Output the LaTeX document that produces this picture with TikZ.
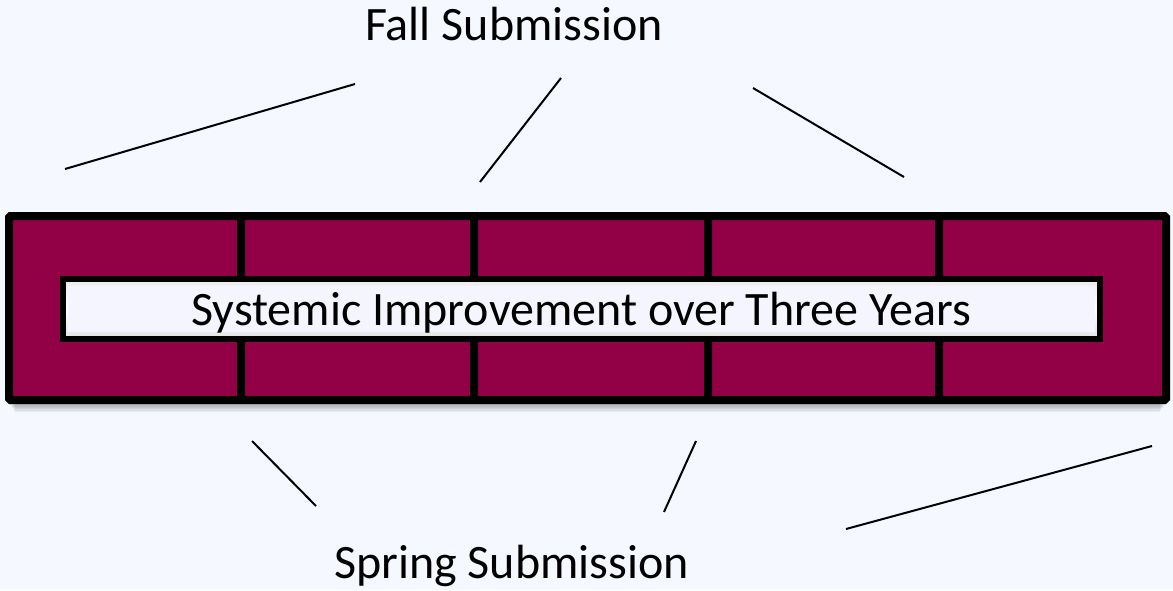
\documentclass[tikz,border=0pt]{standalone}
\usepackage{fontspec}
\setmainfont{Carlito}
\usetikzlibrary{shadows.blur}
\definecolor{bg}{RGB}{245,248,254}
\definecolor{maroon}{RGB}{146,0,69}
\tikzset{
  brick/.style={draw=black, line width=8pt, fill=maroon, rounded corners=1.5pt},
  lbl/.style={font=\fontsize{48}{54}\selectfont, text=black, inner sep=0pt},
  conn/.style={draw=black, line width=2pt}
}
\begin{document}
\begin{tikzpicture}[x=1pt, y=-1pt]
\useasboundingbox[fill=bg] (0,0) rectangle (1173,590);
% soft shadow under the bar
\foreach \k in {1,...,6}{
  \fill[black, opacity=0.05] (9+\k,214+\k) rectangle (1166-\k,404+1.3*\k);
}
% bricks
\foreach \a/\b in {9/241, 241/474, 474/708, 708/939, 939/1166}{
  \draw[brick] (\a,216) rectangle (\b,400);
}
% inner bar
\shade[top color=white!85!gray, bottom color=white!78!gray, middle color=white] (63,279) rectangle (1100,339);
\fill[white!96!blue] (68,286) rectangle (1095,332);
\node[draw=black, line width=6pt, minimum width=1037pt, minimum height=60pt, inner sep=0pt] (bar) at (581.5,309) {};
\node[lbl, anchor=base] (main) at (581,325) {Systemic Improvement over Three Years};
% labels
\node[lbl, anchor=base] (fall) at (514,40) {Fall Submission};
\node[lbl, anchor=base] (spring) at (511.5,578) {Spring Submission};
% free connectors
\coordinate (f1a) at (65,169);  \coordinate (f1b) at (355,84);
\coordinate (f2a) at (480,182); \coordinate (f2b) at (561,78);
\coordinate (f3a) at (753,88);  \coordinate (f3b) at (904,177);
\coordinate (s1a) at (252,441); \coordinate (s1b) at (316,506);
\coordinate (s2a) at (696,441); \coordinate (s2b) at (664,512);
\coordinate (s3a) at (846,529); \coordinate (s3b) at (1152,446);
\draw[conn] (f1a) -- (f1b);
\draw[conn] (f2a) -- (f2b);
\draw[conn] (f3a) -- (f3b);
\draw[conn] (s1a) -- (s1b);
\draw[conn] (s2a) -- (s2b);
\draw[conn] (s3a) -- (s3b);
\end{tikzpicture}
\end{document}
